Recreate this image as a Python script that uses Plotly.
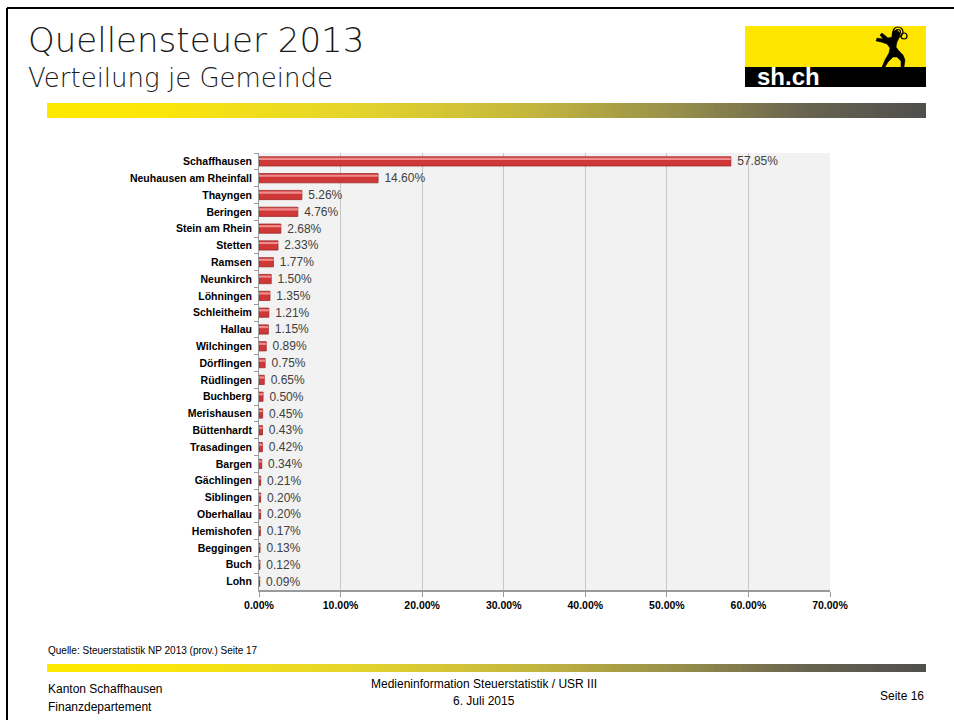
import plotly.graph_objects as go

W, H = 954, 720

municipalities = ["Schaffhausen", "Neuhausen am Rheinfall", "Thayngen", "Beringen",
                  "Stein am Rhein", "Stetten", "Ramsen", "Neunkirch", "Löhningen",
                  "Schleitheim", "Hallau", "Wilchingen", "Dörflingen", "Rüdlingen",
                  "Buchberg", "Merishausen", "Büttenhardt", "Trasadingen", "Bargen",
                  "Gächlingen", "Siblingen", "Oberhallau", "Hemishofen", "Beggingen",
                  "Buch", "Lohn"]
share_pct = [57.85, 14.60, 5.26, 4.76, 2.68, 2.33, 1.77, 1.50, 1.35, 1.21, 1.15,
             0.89, 0.75, 0.65, 0.50, 0.45, 0.43, 0.42, 0.34, 0.21, 0.20, 0.20,
             0.17, 0.13, 0.12, 0.09]
share = [v / 100 for v in share_pct]

def px(x):
    return x / W

def py(y):
    return 1 - y / H

fig = go.Figure()
fig.add_trace(go.Bar(
    x=share, y=municipalities, orientation="h", width=0.55,
    marker=dict(color="#d03838", line=dict(color="#9a1c1c", width=0.7)),
    texttemplate=" %{x:.2%}", textposition="outside", constraintext="none",
    textfont=dict(family="Liberation Sans, Arial, sans-serif", size=12, color="#404040"),
    cliponaxis=False, hoverinfo="x+y", showlegend=False))
fig.add_trace(go.Bar(
    x=share, y=municipalities, orientation="h", width=0.13, offset=-0.21,
    marker=dict(color="rgba(250,170,170,0.75)", line=dict(width=0)),
    hoverinfo="skip", showlegend=False))

shapes = []
# slide border
shapes.append(dict(type="line", xref="paper", yref="paper", x0=px(7), x1=px(7), y0=py(8), y1=py(720),
                   line=dict(color="black", width=2)))
shapes.append(dict(type="line", xref="paper", yref="paper", x0=px(7), x1=px(954), y0=py(8), y1=py(8),
                   line=dict(color="black", width=2)))

# gradient bands
stops = [(0.0, (255, 232, 0)), (0.12, (252, 230, 10)), (0.35, (228, 212, 45)),
         (0.55, (196, 182, 62)), (0.72, (150, 142, 75)), (0.86, (105, 100, 80)), (1.0, (78, 78, 78))]

def col(t):
    for (t0, c0), (t1, c1) in zip(stops[:-1], stops[1:]):
        if t <= t1:
            f = (t - t0) / (t1 - t0) if t1 > t0 else 0
            return "rgb(%d,%d,%d)" % tuple(round(a + (b - a) * f) for a, b in zip(c0, c1))
    return "rgb(%d,%d,%d)" % stops[-1][1]

N = 120
x_left, x_right = 47, 926
step = (x_right - x_left) / N
for (ya, yb) in [(103, 118), (664, 672)]:
    for i in range(N):
        xa = x_left + i * step
        xb = min(x_right, xa + step + 0.8)
        shapes.append(dict(type="rect", xref="paper", yref="paper", x0=px(xa), x1=px(xb),
                           y0=py(yb), y1=py(ya), fillcolor=col((i + 0.5) / N),
                           line=dict(width=0), layer="above"))

# logo
shapes.append(dict(type="rect", xref="paper", yref="paper", x0=px(745), x1=px(926), y0=py(67), y1=py(26),
                   fillcolor="#ffe600", line=dict(width=0)))
shapes.append(dict(type="rect", xref="paper", yref="paper", x0=px(745), x1=px(926), y0=py(87), y1=py(67),
                   fillcolor="black", line=dict(width=0)))
ram = [(893, 31), (897, 30), (900, 33), (899, 38), (897, 42), (896, 47),
       (899, 51), (903, 55), (905, 60), (904, 67), (901, 67), (901, 61), (897, 57), (893, 57),
       (888, 62), (885, 67), (882, 67), (885, 60), (889, 53), (890, 48), (887, 44), (881, 42),
       (876, 41), (877, 38), (883, 39), (880, 35), (882, 33), (888, 38), (892, 37), (892, 34)]
path = "M " + " L ".join("%.5f,%.5f" % (px(x), py(y)) for x, y in ram) + " Z"
shapes.append(dict(type="path", xref="paper", yref="paper", path=path, fillcolor="black",
                   line=dict(color="black", width=0.5)))
for (cx, cy, r) in [(898, 32, 5), (898, 32, 2.5), (904, 36, 3)]:
    shapes.append(dict(type="circle", xref="paper", yref="paper", x0=px(cx - r), x1=px(cx + r),
                       y0=py(cy + r), y1=py(cy - r), line=dict(color="black", width=1.2)))

annotations = [
    dict(text="Quellensteuer 2013", x=px(26), y=py(40), xanchor="left", yanchor="middle",
         font=dict(family="DejaVu Sans, sans-serif", size=34, color="#1a1a1a", weight=300)),
    dict(text="Verteilung je Gemeinde", x=px(26), y=py(78), xanchor="left", yanchor="middle",
         font=dict(family="DejaVu Sans, sans-serif", size=26, color="#1a1a1a", weight=300)),
    dict(text="<b>sh.ch</b>", x=px(755), y=py(77), xanchor="left", yanchor="middle",
         font=dict(family="Liberation Sans, Arial, sans-serif", size=24, color="white")),
    dict(text="Quelle: Steuerstatistik NP 2013 (prov.) Seite 17", x=px(46), y=py(650),
         xanchor="left", yanchor="middle",
         font=dict(family="Liberation Sans Narrow, Liberation Sans, Arial, sans-serif", size=10, color="black")),
    dict(text="Kanton Schaffhausen", x=px(46), y=py(689), xanchor="left", yanchor="middle",
         font=dict(family="Liberation Sans, Arial, sans-serif", size=12, color="black")),
    dict(text="Finanzdepartement", x=px(46), y=py(707), xanchor="left", yanchor="middle",
         font=dict(family="Liberation Sans, Arial, sans-serif", size=12, color="black")),
    dict(text="Medieninformation Steuerstatistik / USR III", x=px(484), y=py(684), xanchor="center",
         yanchor="middle", font=dict(family="Liberation Sans, Arial, sans-serif", size=12, color="black")),
    dict(text="6. Juli 2015", x=px(484), y=py(701), xanchor="center", yanchor="middle",
         font=dict(family="Liberation Sans, Arial, sans-serif", size=12, color="black")),
    dict(text="Seite 16", x=px(926), y=py(696), xanchor="right", yanchor="middle",
         font=dict(family="Liberation Sans, Arial, sans-serif", size=12, color="black")),
]
for a in annotations:
    a.update(xref="paper", yref="paper", showarrow=False)

fig.update_layout(
    width=W, height=H, autosize=False, margin=dict(l=0, r=0, t=0, b=0, pad=0),
    paper_bgcolor="white", plot_bgcolor="#f2f2f2",
    barmode="overlay", bargap=0.45,
    shapes=shapes, annotations=annotations,
    xaxis=dict(domain=[px(259), px(830)], range=[0, 0.70], dtick=0.1, tickformat=".2%",
               automargin=False,
               showgrid=True, gridcolor="#c6c6c6", gridwidth=1, zeroline=False,
               showline=True, linecolor="#9a9a9a", linewidth=1.5, ticks="outside", ticklen=5,
               tickcolor="#9a9a9a", fixedrange=True,
               tickfont=dict(family="Liberation Sans, Arial, sans-serif", size=10.5, color="black", weight="bold")),
    yaxis=dict(domain=[py(590), py(153)], type="category", categoryorder="array",
               categoryarray=municipalities, autorange="reversed", automargin=False,
               showline=True, linecolor="#9a9a9a", linewidth=1, ticks="outside", ticklen=4,
               tickson="boundaries", tickcolor="#9a9a9a", showgrid=False, fixedrange=True,
               ticklabelstandoff=4,
               tickfont=dict(family="Liberation Sans, Arial, sans-serif", size=10.5, color="black", weight="bold")),
)

fig.write_html("out.html", config={"responsive": False})
